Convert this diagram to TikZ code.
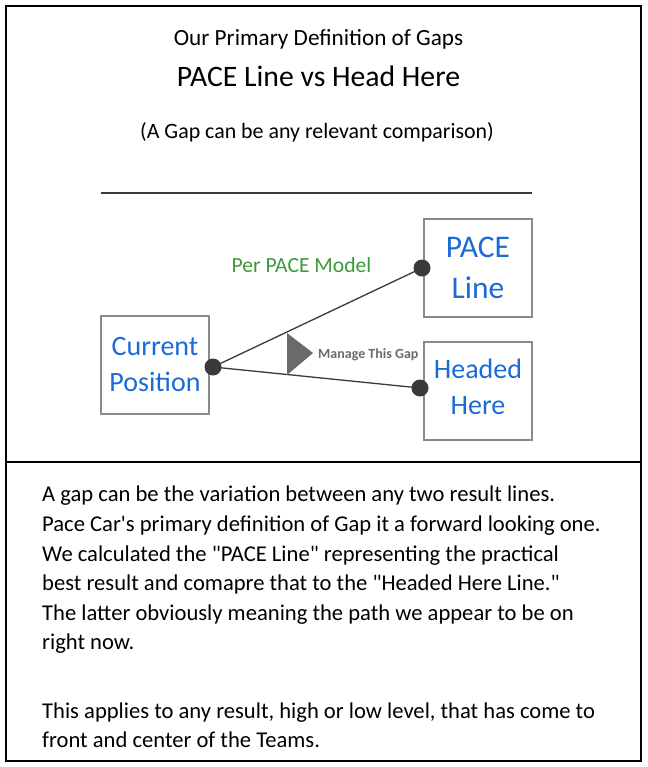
\documentclass[tikz,border=0pt]{standalone}
\usepackage{fontspec}
\setmainfont{Carlito}
\definecolor{boxblue}{HTML}{1A6BD6}
\definecolor{modelgreen}{HTML}{3C9A3C}
\definecolor{gapgrey}{HTML}{6A6A6A}
\definecolor{linegrey}{HTML}{3A3A3A}
\definecolor{boxedge}{HTML}{8A8A8A}
\begin{document}
\begin{tikzpicture}[x=1pt,y=-1pt,
  frame/.style={draw=black,line width=2pt},
  gapbox/.style={draw=boxedge,line width=1.1pt,minimum width=108pt,minimum height=98pt,
    inner sep=0pt,align=center,text=boxblue},
  dotnode/.style={circle,fill=linegrey,minimum size=17pt,inner sep=0pt},
  link/.style={draw=linegrey,line width=1.3pt},
  heading/.style={anchor=base,inner sep=0pt}]
\useasboundingbox (0,0) rectangle (647,767);
% frame
\draw[frame] (6,6) rectangle (641,761);
\draw[frame] (6,462) -- (641,462);
% headings
\node[heading,font=\fontsize{23.2}{28}\selectfont] (t1) at (318.5,46) {Our Primary Definition of Gaps};
\node[heading,font=\fontsize{29.7}{34}\selectfont] (t2) at (318.5,86.7) {PACE Line vs Head Here};
\node[heading,font=\fontsize{21.9}{26}\selectfont] (t3) at (317,138.3) {(A Gap can be any relevant comparison)};
% rule
\draw[draw=linegrey,line width=1.8pt] (101,193.3) -- (532,193.3);
% boxes
\node[gapbox,font=\fontsize{28}{36}\selectfont] (cur) at (155,365) {Current\\Position};
\node[gapbox,font=\fontsize{31.5}{41}\selectfont] (pace) at (478,268) {PACE\\Line};
\node[gapbox,font=\fontsize{28}{36}\selectfont,text depth=9pt] (head) at (478,391) {Headed\\Here};
% dots
\coordinate (dc) at (213,367);
\coordinate (dp) at (422,268);
\coordinate (dh) at (420,388);
\draw[link] (dc) -- (dp);
\draw[link] (dc) -- (dh);
\node[dotnode] (c1) at (dc) {};
\node[dotnode] (p1) at (dp) {};
\node[dotnode] (h1) at (dh) {};
% gap marker
\fill[gapgrey] (287,333) -- (287,375) -- (313,353) -- cycle;
\node[anchor=base west,inner sep=0pt,text=gapgrey,font=\fontsize{14}{16}\selectfont\bfseries] (mg) at (318,358) {Manage This Gap};
\node[anchor=base,inner sep=0pt,text=modelgreen,font=\fontsize{21.6}{24}\selectfont] (pm) at (301.5,272.7) {Per PACE Model};
% body
\node[anchor=north west,inner sep=0pt,align=left,font=\fontsize{22.6}{29.6}\selectfont] (body) at (42,481) {%
\strut A gap can be the variation between any two result lines.\\
Pace Car\textquotesingle s primary definition of Gap it a forward looking one.\\
We calculated the \textquotedbl PACE Line\textquotedbl{} representing the practical\\
best result and comapre that to the \textquotedbl Headed Here Line.\textquotedbl\\
The latter obviously meaning the path we appear to be on\\
right now.\\[38.6pt]
This applies to any result, high or low level, that has come to\\
front and center of the Teams.};
\end{tikzpicture}
\end{document}
